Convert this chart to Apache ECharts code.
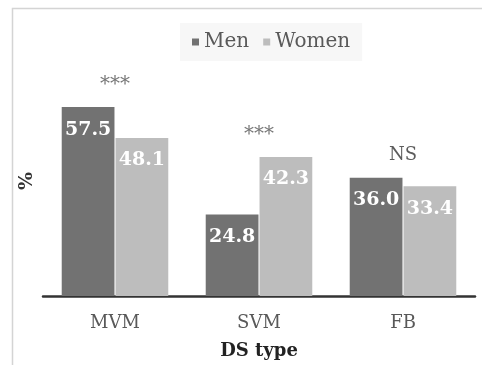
<!DOCTYPE html>
<html>
<head>
<meta charset="utf-8">
<script src="https://cdn.jsdelivr.net/npm/echarts@6/dist/echarts.min.js"></script>
<style>
  html, body { margin: 0; padding: 0; background: #fff; overflow: hidden; }
  #chart { width: 482px; height: 365px; }
</style>
</head>
<body>
<div id="chart"></div>
<script>
// Share (%) of each dietary-supplement type, by sex
const categories = ['MVM', 'SVM', 'FB'];
const menValues = [57.5, 24.8, 36.0];
const womenValues = [48.1, 42.3, 33.4];
const significance = ['***', '***', 'NS'];

const serif = '"DejaVu Serif", "Liberation Serif", serif';

// Significance marks sit just above the taller bar of each group
const sigData = categories.map((c, i) => ({
  value: Math.max(menValues[i], womenValues[i]),
  label: significance[i] === 'NS'
    ? { formatter: significance[i], fontSize: 18, distance: 13, color: '#333' }
    : { formatter: significance[i], fontSize: 20, distance: 12, color: '#555' }
}));

const barLabel = {
  show: true,
  position: 'insideTop',
  distance: 13,
  formatter: p => p.value.toFixed(1),
  fontFamily: serif,
  fontWeight: 'bold',
  fontSize: 19,
  color: '#ffffff'
};

const chart = echarts.init(document.getElementById('chart'), null, { renderer: 'canvas', width: 482, height: 365 });
chart.setOption({
  animation: false,
  backgroundColor: '#ffffff',
  graphic: [{
    type: 'rect',
    shape: { x: 12.5, y: 8.5, width: 500, height: 400 },
    style: { fill: 'none', stroke: '#d4d4d4', lineWidth: 1.5 },
    silent: true,
    z: -1
  }],
  legend: {
    data: ['Men', 'Women'],
    top: 23,
    left: 180,
    icon: 'rect',
    itemWidth: 7,
    itemHeight: 7,
    itemGap: 14,
    padding: [9, 12],
    backgroundColor: '#f7f7f7',
    textStyle: { fontFamily: serif, fontSize: 20, color: '#595959' }
  },
  grid: { left: 43, width: 432, top: 66, height: 231, containLabel: false },
  xAxis: {
    type: 'category',
    data: categories,
    name: 'DS type',
    nameLocation: 'middle',
    nameGap: 46,
    nameTextStyle: { fontFamily: serif, fontSize: 18, fontWeight: 'bold', color: '#222' },
    axisLine: { show: true, lineStyle: { color: '#333', width: 2.5 } },
    axisTick: { show: false },
    axisLabel: { fontFamily: serif, fontSize: 18, color: '#595959', margin: 18 }
  },
  yAxis: {
    type: 'value',
    min: 0,
    max: 70,
    name: '%',
    nameLocation: 'middle',
    nameGap: 6,
    nameRotate: 90,
    nameTextStyle: { fontFamily: serif, fontSize: 19, fontWeight: 'bold', color: '#333' },
    axisLine: { show: false },
    axisTick: { show: false },
    axisLabel: { show: false },
    splitLine: { show: false }
  },
  series: [
    {
      name: 'Men',
      type: 'bar',
      data: menValues,
      barCategoryGap: '26%',
      barGap: '2%',
      itemStyle: { color: '#727272' },
      label: barLabel
    },
    {
      name: 'Women',
      type: 'bar',
      data: womenValues,
      itemStyle: { color: '#bdbdbd' },
      label: barLabel
    },
    {
      name: 'sig',
      type: 'scatter',
      data: sigData,
      symbolSize: 0,
      silent: true,
      label: {
        show: true,
        position: 'top',
        fontFamily: serif
      }
    }
  ]
});
</script>
</body>
</html>
